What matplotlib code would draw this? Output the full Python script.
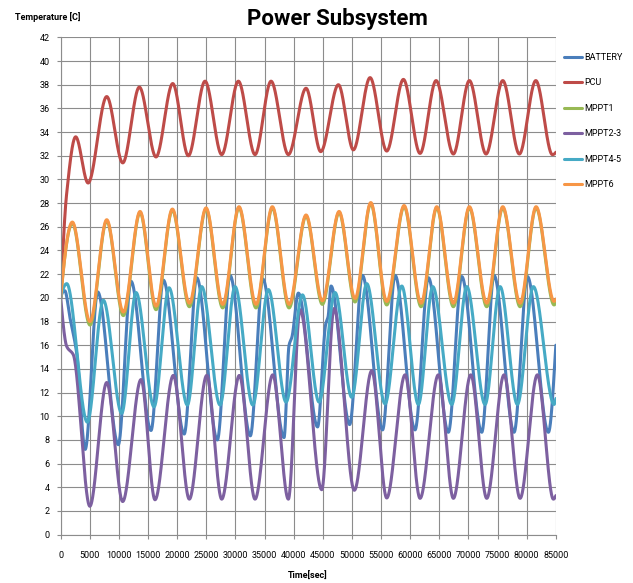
import numpy as np
import matplotlib
matplotlib.use("Agg")
import matplotlib.pyplot as plt

# ---- data: (time [s], temperature [C]) turning points of each series ----
battery_t = [0, 700, 1600, 2750, 4200, 6350, 9890, 12070, 15500, 17620, 21200,
             23350, 26890, 29070, 32550, 34680, 38340, 39200, 39700, 40800,
             44100, 45500, 45900, 46410, 49600, 51790, 55250, 57400, 60830,
             63120, 66550, 68850, 72280, 74390, 77830, 80120, 83720, 85000]
battery_v = [20.0, 20.6, 18.3, 15.3, 7.2, 20.5, 7.6, 21.4, 8.8, 21.5, 8.5,
             21.7, 8.0, 21.9, 8.35, 21.6, 8.2, 16.0, 16.7, 20.4,
             9.1, 17.8, 18.4, 21.0, 9.3, 21.9, 8.85, 21.9, 8.85,
             21.7, 8.65, 21.8, 8.65, 21.9, 8.65, 21.8, 8.65, 16.0]

pcu_t = [0, 1000, 2570, 4700, 7900, 10650, 13500, 16360, 19230, 21910, 24780,
         27640, 30500, 33360, 36110, 39080, 42120, 44640, 47670, 50240, 53110,
         55970, 58830, 61690, 64440, 67410, 70160, 73020, 75890, 78740, 81560,
         84400, 85000]
pcu_v = [20.0, 28.7, 33.6, 29.7, 37.0, 31.4, 37.8, 31.9, 38.1, 32.0, 38.3,
         32.1, 38.3, 32.1, 38.3, 32.1, 37.7, 32.35, 38.0, 32.5, 38.6,
         32.4, 38.45, 32.2, 38.35, 32.15, 38.35, 32.15, 38.35, 32.15, 38.35,
         32.1, 32.3]

mppt_t = [0, 2000, 5030, 7900, 10750, 13620, 16370, 19170, 22090, 24950,
          27810, 30610, 33530, 36330, 39200, 42120, 44920, 47790, 50530, 53230,
          55970, 58950, 61870, 64560, 67410, 70160, 73140, 75890, 78860, 81610,
          84700, 85000]
mppt1_v = [20.0, 26.3, 17.7, 26.5, 18.5, 27.2, 19.0, 27.4, 19.25, 27.5,
           19.15, 27.6, 19.15, 27.6, 19.15, 26.9, 19.45, 27.2, 19.65, 27.95,
           19.4, 27.7, 19.25, 27.6, 19.25, 27.6, 19.25, 27.6, 19.25, 27.6,
           19.4, 19.6]
mppt6_v = [20.0, 26.4, 18.0, 26.6, 18.8, 27.3, 19.3, 27.5, 19.55, 27.6,
           19.45, 27.7, 19.45, 27.7, 19.45, 27.0, 19.75, 27.3, 19.95, 28.05,
           19.7, 27.8, 19.55, 27.7, 19.55, 27.7, 19.55, 27.7, 19.55, 27.7,
           19.7, 19.9]

mppt23_t = [0, 1030, 2160, 5000, 7900, 10640, 13790, 16190, 19330, 22080,
            25070, 27640, 30670, 33360, 36400, 39080, 41090, 44810, 46930,
            50410, 53400, 55970, 59120, 61690, 64830, 67410, 70400, 73140,
            76110, 78860, 81830, 84580, 85000]
mppt23_v = [20.0, 15.9, 15.2, 2.4, 12.85, 2.8, 13.1, 2.95, 13.45, 3.0,
            13.45, 3.0, 13.45, 3.0, 13.5, 3.0, 19.0, 3.8, 19.1,
            3.75, 13.85, 3.1, 13.5, 3.07, 13.5, 3.07, 13.5, 3.07,
            13.5, 3.07, 13.5, 3.0, 3.3]

mppt45_t = [0, 1030, 4570, 7320, 10470, 12930, 16020, 18600, 21740, 24210,
            27350, 29930, 32970, 35650, 38690, 41500, 44350, 47100, 49960,
            52540, 55680, 58550, 61400, 63870, 67130, 69710, 72850, 75430,
            78400, 81140, 84700, 85000]
mppt45_v = [20.0, 21.2, 9.5, 19.8, 10.25, 20.45, 10.8, 20.85, 10.95, 20.95,
            10.95, 20.95, 10.95, 20.7, 11.2, 20.25, 11.2, 20.45, 11.6,
            21.2, 11.05, 21.0, 11.0, 20.95, 11.0, 20.95, 11.0, 20.95,
            11.0, 20.95, 11.0, 11.5]

series_names = ["BATTERY", "PCU", "MPPT1", "MPPT2-3", "MPPT4-5", "MPPT6"]
series_colors = ["#4A7EBB", "#BE4B48", "#98B954", "#7D60A0", "#46AAC5", "#F79646"]

x_ticks = list(range(0, 85001, 5000))
y_ticks = list(range(0, 43, 2))


def smooth_line(xk, yk, xs):
    """Monotone cubic (PCHIP) curve through the given points."""
    xk = np.asarray(xk, float)
    yk = np.asarray(yk, float)
    h = np.diff(xk)
    d = np.diff(yk) / h
    n = len(xk)
    m = np.zeros(n)
    for k in range(1, n - 1):
        if d[k - 1] * d[k] > 0:
            w1 = 2 * h[k] + h[k - 1]
            w2 = h[k] + 2 * h[k - 1]
            m[k] = (w1 + w2) / (w1 / d[k - 1] + w2 / d[k])

    def end_slope(h0, h1, d0, d1):
        s = ((2 * h0 + h1) * d0 - h0 * d1) / (h0 + h1)
        if np.sign(s) != np.sign(d0):
            return 0.0
        if np.sign(d0) != np.sign(d1) and abs(s) > 3 * abs(d0):
            return 3 * d0
        return s

    m[0] = end_slope(h[0], h[1], d[0], d[1])
    m[-1] = end_slope(h[-1], h[-2], d[-1], d[-2])

    idx = np.clip(np.searchsorted(xk, xs) - 1, 0, n - 2)
    t = (xs - xk[idx]) / h[idx]
    h00 = 2 * t**3 - 3 * t**2 + 1
    h10 = t**3 - 2 * t**2 + t
    h01 = -2 * t**3 + 3 * t**2
    h11 = t**3 - t**2
    return (h00 * yk[idx] + h10 * h[idx] * m[idx]
            + h01 * yk[idx + 1] + h11 * h[idx] * m[idx + 1])


plt.rcParams["font.family"] = ["Roboto", "DejaVu Sans"]

fig = plt.figure(figsize=(6.33, 5.83), dpi=100)
ax = fig.add_axes([0.0959, 0.0829, 0.7822, 0.853])

series = [
    (battery_t, battery_v),
    (pcu_t, pcu_v),
    (mppt_t, mppt1_v),
    (mppt23_t, mppt23_v),
    (mppt45_t, mppt45_v),
    (mppt_t, mppt6_v),
]
xs = np.linspace(0, 85000, 4000)
for (tk, vk), name, color in zip(series, series_names, series_colors):
    ax.plot(xs, smooth_line(tk, vk, xs), color=color, lw=2.2, label=name,
            solid_capstyle="round")

ax.set_xlim(0, 85000)
ax.set_ylim(0, 42)
ax.set_xticks(x_ticks)
ax.set_yticks(y_ticks)
ax.set_xticklabels([str(v) for v in x_ticks])
ax.set_yticklabels([str(v) for v in y_ticks])
ax.grid(True, color="#8C8C8C", lw=0.8)
ax.set_axisbelow(True)
for side in ("top", "right"):
    ax.spines[side].set_visible(False)
for side in ("left", "bottom"):
    ax.spines[side].set_color("#8C8C8C")
    ax.spines[side].set_linewidth(0.8)
ax.tick_params(axis="both", colors="#8C8C8C", labelcolor="black",
               labelsize=6.5, length=3, width=0.8)
ax.tick_params(axis="x", pad=9)
ax.tick_params(axis="y", pad=5)

fig.text(337 / 633, 1 - 19 / 583, "Power Subsystem", ha="center", va="center",
         fontsize=16, fontweight="bold")
fig.text(15 / 633, 1 - 17 / 583, "Temperature [C]", ha="left", va="center",
         fontsize=6.5, fontweight="bold")
fig.text(308 / 633, 1 - 576 / 583, "Time[sec]", ha="center", va="center",
         fontsize=6.5, fontweight="bold")

fig.legend(loc="upper left", bbox_to_anchor=(564 / 633, 1 - 53 / 583),
           frameon=False, fontsize=6.5, handlelength=2.0, handletextpad=0.25,
           labelspacing=1.82, borderaxespad=0, borderpad=0)

fig.savefig("out.png", dpi=100, facecolor="white")
